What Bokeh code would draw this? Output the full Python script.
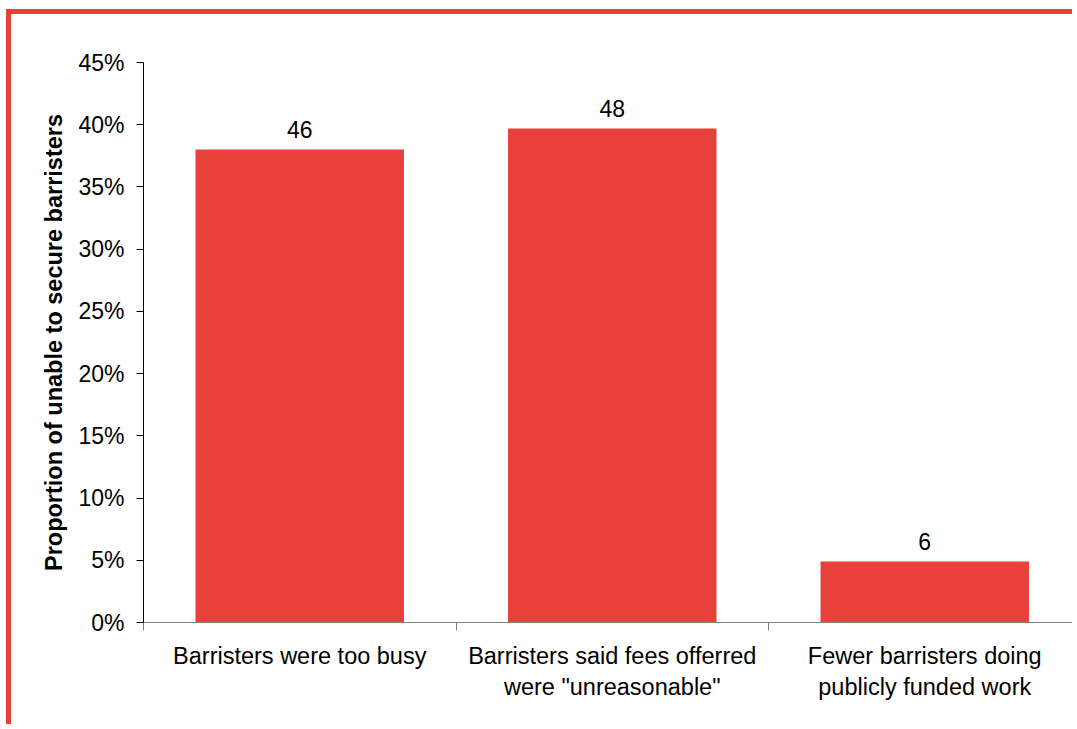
from bokeh.plotting import figure
from bokeh.models import ColumnDataSource, FixedTicker, NumeralTickFormatter, Range1d
from bokeh.core.properties import value
from bokeh.embed import file_html
from bokeh.resources import INLINE

categories = ["Barristers were too busy",
              "Barristers said fees offerred\nwere \"unreasonable\"",
              "Fewer barristers doing\npublicly funded work"]
positions = [0.5, 1.5, 2.5]
proportions = [0.380, 0.397, 0.049]
counts = ["46", "48", "6"]
y_ticks = [0.0, 0.05, 0.10, 0.15, 0.20, 0.25, 0.30, 0.35, 0.40, 0.45]
boundaries = [0, 1, 2, 3]

RED = "#e8403a"
FONT = "Liberation Sans"

src = ColumnDataSource(dict(x=positions, top=proportions, label=counts))

p = figure(width=1066, height=715, output_backend="svg", toolbar_location=None,
           x_range=Range1d(0, 934 / 312.5), y_range=Range1d(0, 0.45),
           min_border_left=132, min_border_top=48, min_border_bottom=107,
           min_border_right=0)
p.styles = {"margin-left": "6px", "margin-top": "9px",
            "border-left": f"5px solid {RED}", "border-top": f"5px solid {RED}"}

p.vbar(x="x", top="top", width=0.667, source=src, fill_color=RED, line_color=None)
p.text(x="x", y="top", text="label", source=src, text_align="center",
       text_baseline="alphabetic", y_offset=-20, text_font=value(FONT),
       text_font_size="23px", text_color="black")

p.xgrid.grid_line_color = None
p.ygrid.grid_line_color = None
p.outline_line_color = None
p.background_fill_color = "white"
p.border_fill_color = "white"

xa = p.xaxis[0]
xa.ticker = FixedTicker(ticks=positions, minor_ticks=boundaries)
xa.major_label_overrides = {pos: c for pos, c in zip(positions, categories)}
xa.major_tick_line_color = None
xa.minor_tick_line_color = "#808080"
xa.minor_tick_out = 8
xa.minor_tick_in = 0
xa.axis_line_color = "#808080"
xa.major_label_text_font = FONT
xa.major_label_text_font_size = "23.5px"
xa.major_label_text_color = "black"
xa.major_label_standoff = 12

ya = p.yaxis[0]
ya.ticker = FixedTicker(ticks=y_ticks)
ya.formatter = NumeralTickFormatter(format="0%")
ya.major_tick_out = 7
ya.major_tick_in = 0
ya.minor_tick_line_color = None
ya.axis_line_color = "black"
ya.major_tick_line_color = "black"
ya.major_label_text_font = FONT
ya.major_label_text_font_size = "23px"
ya.major_label_text_color = "black"
ya.major_label_standoff = 12
ya.axis_label = "Proportion of unable to secure barristers"
ya.axis_label_text_font = FONT
ya.axis_label_text_font_size = "23.5px"
ya.axis_label_text_font_style = "bold"
ya.axis_label_text_color = "black"
ya.axis_label_standoff = 8

open("out.html", "w").write(file_html(p, INLINE))
